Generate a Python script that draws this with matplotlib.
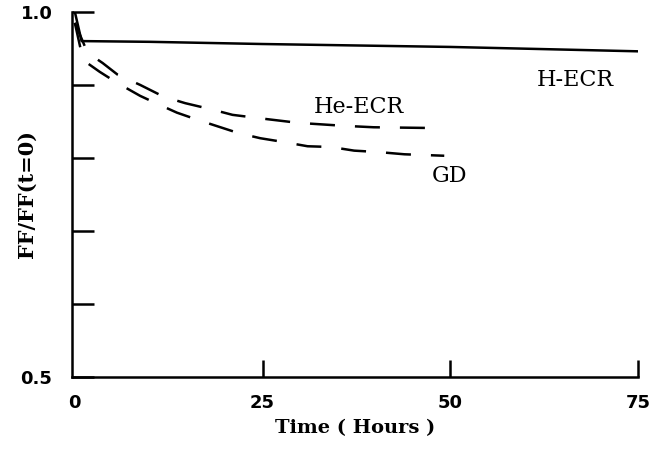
import numpy as np
import matplotlib
matplotlib.use("Agg")
import matplotlib.pyplot as plt

# values (time in hours, FF/FF(t=0))
h_ecr_t = [0, 0.9, 10, 25, 50, 75]
h_ecr_ff = [1.0, 0.960, 0.959, 0.956, 0.952, 0.946]

he_ecr_t = [0, 1.7, 3.7, 5.7, 8.7, 11.8, 14.7, 18.4, 21.0, 25.7, 29.8, 35.8, 39.8, 47.5]
he_ecr_ff = [0.985, 0.944, 0.930, 0.914, 0.900, 0.884, 0.875, 0.866, 0.859, 0.853,
             0.848, 0.844, 0.842, 0.841]

gd_t = [0, 1.1, 3.3, 5.6, 8.7, 11.0, 13.6, 16.4, 19.4, 21.8, 24.7, 27.7, 31.0,
        34.1, 37.2, 40.5, 43.9, 49.2]
gd_ff = [0.985, 0.934, 0.918, 0.903, 0.885, 0.874, 0.862, 0.852, 0.842, 0.834,
         0.827, 0.822, 0.816, 0.815, 0.810, 0.808, 0.805, 0.803]

x_ticks = [0, 25, 50, 75]
y_ticks = [0.5, 0.6, 0.7, 0.8, 0.9, 1.0]
y_tick_labels = ["0.5", "", "", "", "", "1.0"]

serif = ["DejaVu Serif"]

fig = plt.figure(figsize=(6.53, 4.57), dpi=100)
ax = fig.add_axes([0.110, 0.175, 0.867, 0.799])

ax.plot(h_ecr_t, h_ecr_ff, color="black", lw=1.8)
ax.plot(he_ecr_t, he_ecr_ff, color="black", lw=1.8, dashes=(10, 8))
ax.plot(gd_t, gd_ff, color="black", lw=1.8, dashes=(10, 8))

ax.text(61.5, 0.907, "H-ECR", fontsize=16, family=serif, va="center")
ax.text(31.8, 0.870, "He-ECR", fontsize=16, family=serif, va="center")
ax.text(47.5, 0.775, "GD", fontsize=16, family=serif, va="center")

ax.set_xlim(-0.4, 75)
ax.set_ylim(0.5, 1.0)
ax.spines["top"].set_visible(False)
ax.spines["right"].set_visible(False)
ax.spines["left"].set_linewidth(1.8)
ax.spines["bottom"].set_linewidth(1.8)

ax.set_xticks(x_ticks)
ax.set_xticklabels([str(v) for v in x_ticks], fontweight="bold", fontsize=13)
ax.set_yticks(y_ticks)
ax.set_yticklabels(y_tick_labels, fontweight="bold", fontsize=13)
ax.tick_params(axis="y", direction="in", length=16, width=1.8, pad=14)
ax.tick_params(axis="x", direction="in", length=12, width=1.8, pad=12)
ax.xaxis.get_major_ticks()[0].tick1line.set_visible(False)

ax.set_xlabel("Time ( Hours )", family=serif, fontweight="bold", fontsize=14)
ax.xaxis.set_label_coords(0.5, -0.115)
ax.set_ylabel("FF/FF(t=0)", family=serif, fontweight="bold", fontsize=15)
ax.yaxis.set_label_coords(-0.062, 0.5)

fig.savefig("out.png", dpi=100)
